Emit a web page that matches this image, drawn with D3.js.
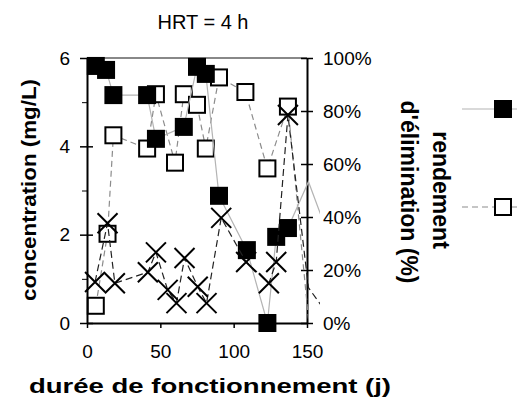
<!DOCTYPE html>
<html>
<head>
<meta charset="utf-8">
<script src="https://cdn.jsdelivr.net/npm/d3@7"></script>
<style>
  body { margin: 0; background: #fff; }
  text { font-family: "Liberation Sans", Arial, sans-serif; }
</style>
</head>
<body>
<div id="chart"></div>
<script>
const width = 517;
const height = 404;
const margin = { top: 58, right: 210, bottom: 81, left: 87 };

// data (days, mg/L); points past 150 d are only seen as line stubs
const filledDays = [6, 13, 18, 41, 47, 66, 75, 81, 90, 109, 123, 129, 137, 151, 165];
const filledVals = [5.82, 5.73, 5.16, 5.16, 4.17, 4.44, 5.8, 5.64, 2.88, 1.65, 0, 1.95, 2.15, 3.2, 1.95];

const openDays = [6, 14, 18, 41, 47, 60, 66, 75, 81, 90, 108, 123, 137, 151];
const openVals = [0.39, 2.02, 4.25, 3.95, 5.18, 3.63, 5.18, 4.94, 3.95, 5.56, 5.23, 3.5, 4.9, 0.1];

const crossDays = [5.5, 14, 19, 41.5, 47, 55, 61, 66.5, 75.5, 81.5, 91.5, 108.5, 124, 129, 137, 151, 165];
const crossVals = [0.93, 2.26, 0.9, 1.15, 1.6, 0.75, 0.45, 1.47, 0.82, 0.45, 2.38, 1.38, 0.9, 1.38, 4.71, 0.8, 0.15];

const xTicks = [0, 50, 100, 150];
const yTicks = [0, 2, 4, 6];
const yMinorTicks = [1, 3, 5];
const pctTicks = [0, 0.2, 0.4, 0.6, 0.8, 1];

const title = 'HRT = 4 h';
const xTitle = 'durée de fonctionnement (j)';
const yTitle = 'concentration (mg/L)';
const y2Title = ['rendement', "d'élimination (%)"];

function toPoints(days, vals) {
    return days.map((d, i) => ({ day: d, val: vals[i] }));
}

const series = [
    { name: 'open', data: toPoints(openDays, openVals), stroke: '#8c8c8c', dash: '6,4' },
    { name: 'filled', data: toPoints(filledDays, filledVals), stroke: '#b4b4b4', dash: null },
    { name: 'cross', data: toPoints(crossDays, crossVals), stroke: '#222', dash: '7,4' }
];

const svg = d3.select('#chart')
    .append('svg')
    .attr('width', width)
    .attr('height', height);

const x = d3.scaleLinear().domain([0, 150]).range([margin.left, width - margin.right]);
const y = d3.scaleLinear().domain([0, 6]).range([height - margin.bottom, margin.top]);
const yPct = d3.scaleLinear().domain([0, 1]).range([height - margin.bottom, margin.top]);

const plotRight = width - margin.right;
const plotBottom = height - margin.bottom;

// section 1: frame and axes

svg.append('line')
    .attr('x1', margin.left).attr('x2', plotRight)
    .attr('y1', margin.top).attr('y2', margin.top)
    .attr('stroke', '#888').attr('stroke-width', 2);

const leftAxis = svg.append('g')
    .attr('transform', `translate(${margin.left},0)`)
    .call(d3.axisLeft(y).tickValues(yTicks).tickFormat(d3.format('d')).tickSize(7).tickSizeOuter(0).tickPadding(10));
leftAxis.selectAll('.tick line').attr('x2', -7).attr('x1', 6);

svg.append('g')
    .attr('transform', `translate(${margin.left},0)`)
    .call(d3.axisLeft(y).tickValues(yMinorTicks).tickSize(5).tickSizeOuter(0).tickFormat(''))
    .select('.domain').remove();

const bottomAxis = svg.append('g')
    .attr('transform', `translate(0,${plotBottom})`)
    .call(d3.axisBottom(x).tickValues(xTicks).tickSize(5).tickSizeOuter(0).tickPadding(17));

const rightAxis = svg.append('g')
    .attr('transform', `translate(${plotRight},0)`)
    .call(d3.axisRight(yPct).tickValues(pctTicks).tickFormat(d3.format('.0%')).tickSize(6).tickSizeOuter(0).tickPadding(10));
rightAxis.selectAll('.tick line').attr('x1', -6);

[leftAxis, bottomAxis, rightAxis].forEach(g => {
    g.select('.domain').attr('stroke', '#000').attr('stroke-width', 2);
    g.selectAll('.tick line').attr('stroke', '#000').attr('stroke-width', 1.5);
    g.selectAll('.tick text')
        .attr('fill', '#000')
        .style('font-size', '19px')
        .style('font-family', '"Liberation Sans", Arial, sans-serif');
});

// section 2: series lines (clipped a bit past the right axis) and markers

svg.append('clipPath').attr('id', 'clip')
    .append('rect').attr('x', 0).attr('y', 0).attr('width', 320).attr('height', height);

const line = d3.line()
    .x(d => x(d.day))
    .y(d => y(d.val));

const sq = 18;
const arm = 10;

series.forEach(s => {
    svg.append('path')
        .datum(s.data)
        .attr('clip-path', 'url(#clip)')
        .attr('d', line)
        .attr('fill', 'none')
        .attr('stroke', s.stroke)
        .attr('stroke-width', 1.2)
        .attr('stroke-dasharray', s.dash);

    const shown = s.data.filter(d => d.day <= 150);
    const g = svg.append('g');

    if (s.name === 'filled') {
        g.selectAll('rect').data(shown).join('rect')
            .attr('x', d => x(d.day) - sq / 2)
            .attr('y', d => y(d.val) - sq / 2)
            .attr('width', sq).attr('height', sq)
            .attr('fill', '#000');
    } else if (s.name === 'open') {
        g.selectAll('rect').data(shown).join('rect')
            .attr('x', d => x(d.day) - (sq - 2) / 2)
            .attr('y', d => y(d.val) - (sq - 2) / 2)
            .attr('width', sq - 2).attr('height', sq - 2)
            .attr('fill', '#fff')
            .attr('stroke', '#000')
            .attr('stroke-width', 2);
    } else {
        g.selectAll('path').data(shown).join('path')
            .attr('d', d => {
                const cx = x(d.day), cy = y(d.val);
                return `M${cx - arm},${cy - arm}L${cx + arm},${cy + arm}M${cx - arm},${cy + arm}L${cx + arm},${cy - arm}`;
            })
            .attr('stroke', '#000')
            .attr('stroke-width', 2);
    }
});

// section 3: legend (labels fall outside the picture)

const legend = svg.append('g');
const legendRows = [
    { y: 109, stroke: '#b4b4b4', dash: null, fill: '#000' },
    { y: 207, stroke: '#8c8c8c', dash: '6,4', fill: '#fff' }
];
legendRows.forEach(r => {
    legend.append('line')
        .attr('x1', 462).attr('x2', 517)
        .attr('y1', r.y).attr('y2', r.y)
        .attr('stroke', r.stroke).attr('stroke-width', 1.2)
        .attr('stroke-dasharray', r.dash);
    if (r.fill === '#000') {
        legend.append('rect')
            .attr('x', 503 - sq / 2).attr('y', r.y - sq / 2)
            .attr('width', sq).attr('height', sq).attr('fill', '#000');
    } else {
        legend.append('rect')
            .attr('x', 503 - (sq - 2) / 2).attr('y', r.y - (sq - 2) / 2)
            .attr('width', sq - 2).attr('height', sq - 2)
            .attr('fill', '#fff').attr('stroke', '#000').attr('stroke-width', 2);
    }
});

// section 4: titles

svg.append('text')
    .attr('x', 203).attr('y', 29)
    .attr('text-anchor', 'middle')
    .style('font-size', '20px')
    .text(title);

svg.append('text')
    .attr('x', 210).attr('y', 393)
    .attr('text-anchor', 'middle')
    .attr('textLength', 362)
    .attr('lengthAdjust', 'spacingAndGlyphs')
    .style('font-size', '21px')
    .style('font-weight', 'bold')
    .text(xTitle);

svg.append('text')
    .attr('transform', 'translate(36,190) rotate(-90)')
    .attr('text-anchor', 'middle')
    .attr('textLength', 222)
    .attr('lengthAdjust', 'spacingAndGlyphs')
    .style('font-size', '21px')
    .style('font-weight', 'bold')
    .text(yTitle);

svg.append('text')
    .attr('transform', 'translate(433,190) rotate(90)')
    .attr('text-anchor', 'middle')
    .style('font-size', '23px')
    .style('font-weight', 'bold')
    .text(y2Title[0]);

svg.append('text')
    .attr('transform', 'translate(401,192) rotate(90)')
    .attr('text-anchor', 'middle')
    .style('font-size', '23px')
    .style('font-weight', 'bold')
    .text(y2Title[1]);
</script>
</body>
</html>
